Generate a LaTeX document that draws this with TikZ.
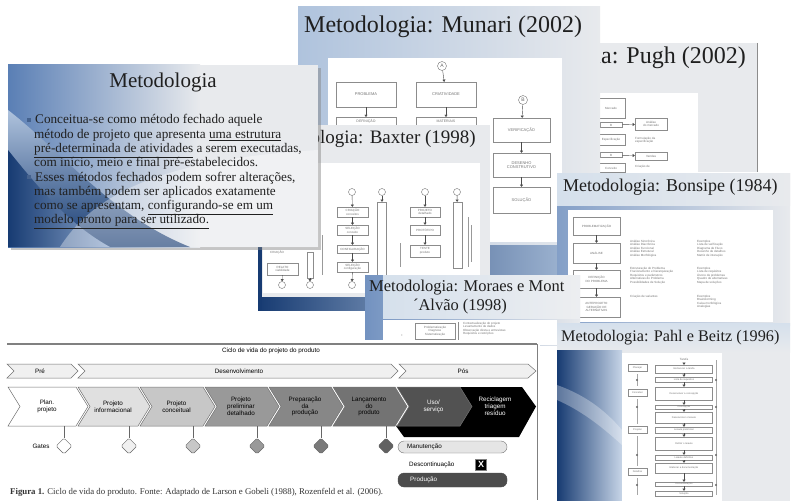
\documentclass[tikz,border=0pt]{standalone}
\usepackage{fontspec}
\setmainfont{Liberation Serif}
\setsansfont{Liberation Sans}
\usetikzlibrary{arrows.meta,shadows,shapes.geometric}
\definecolor{navy}{HTML}{173B72}
\definecolor{midblue}{HTML}{5A7FB5}
\definecolor{lightblue}{HTML}{AFC3DD}
\definecolor{paleblue}{HTML}{D5E0EC}
\definecolor{sgray}{HTML}{E8EAED}
\definecolor{txt}{HTML}{202020}
\tikzset{
  tinyfont/.style={font=\sffamily\fontsize{3}{3.5}\selectfont, text=black!55},
  dbox/.style={draw=black!45, line width=0.35pt, fill=white, tinyfont, align=center, inner sep=0.5pt},
  darr/.style={-{Triangle[length=2.2pt,width=3pt]}, black!70, line width=0.4pt},
  mcirc/.style={draw=black!55, circle, line width=0.4pt, fill=white, inner sep=0pt, minimum size=9pt, font=\sffamily\fontsize{5}{5}\selectfont, text=black!60},
  ttl/.style={inner sep=0pt, text=black!88},
  bodyline/.style={font=\fontsize{13.2}{14}\selectfont, text=txt, anchor=base west, inner sep=0pt},
  chev/.style={draw=black!55, line width=0.5pt},
  gtxt/.style={font=\sffamily\fontsize{6.3}{6.8}\selectfont, align=center, inner sep=0pt},
  gate/.style={diamond, draw=black!60, line width=0.5pt, rounded corners=1.5pt, minimum size=16pt, inner sep=0pt},
  tinytxt/.style={tinyfont, anchor=west, inner sep=0pt, align=left},
}
\begin{document}
\begin{tikzpicture}[x=1pt,y=-1pt]
\useasboundingbox (0,0) rectangle (794,500);
\fill[white] (0,0) rectangle (794,500);

%% ---------------- Pugh slide ----------------
\fill[sgray] (470,43) rectangle (757,172);
\draw[black!45, line width=1pt] (757,43) -- (757,172);
\fill[white] (560,93) rectangle (698,172);
\node[ttl, font=\fontsize{24}{24}\selectfont, anchor=east] (pught) at (746,58) {Metodologia: Pugh (2002)};
\node[dbox, minimum width=28pt, minimum height=20pt] (pu1) at (611,108) {Mercado};
\node[dbox, minimum width=22pt, minimum height=5pt] (pb1) at (611,125) {B};
\node[dbox, minimum width=32pt, minimum height=12pt] (pr1) at (651,124) {Análise\\do mercado};
\draw[darr] (pb1) -- (pr1);
\node[dbox, minimum width=28pt, minimum height=11pt] (pu2) at (611,140) {Especificação};
\node[tinytxt] (pt1) at (635,140) {Formulação da\\especificação};
\node[dbox, minimum width=22pt, minimum height=5pt] (pb2) at (611,155) {B};
\node[dbox, minimum width=32pt, minimum height=8pt] (pr2) at (651,156) {Vendas};
\draw[darr] (pb2) -- (pr2);
\node[dbox, minimum width=28pt, minimum height=9pt] (pu3) at (611,168) {Conceito};
\node[tinytxt] (pt2) at (635,167) {Criação de};

%% ---------------- Munari slide ----------------
\shade[left color=lightblue, right color=sgray] (298,7) rectangle (600,245);
\fill[white] (328,58) rectangle (562,242);
\shade[left color=navy, right color=lightblue] (298,245) rectangle (600,275);
\node[ttl, font=\fontsize{24}{24}\selectfont, anchor=west] (munt) at (304,27) {Metodologia: Munari (2002)};
\node[mcirc] (ma) at (442,66) {A};
\node[dbox, font=\sffamily\fontsize{4}{4.5}\selectfont, minimum width=60pt, minimum height=25pt] (mprob) at (366,94.5) {PROBLEMA};
\node[dbox, font=\sffamily\fontsize{4}{4.5}\selectfont, minimum width=60pt, minimum height=25pt] (mcri) at (446,94.5) {CRIATIVIDADE};
\node[dbox, minimum width=60pt, minimum height=23pt, anchor=north] (mdef) at (366,117) {};
\node[dbox, minimum width=60pt, minimum height=23pt, anchor=north] (mmat) at (446,117) {};
\node[tinyfont, font=\sffamily\fontsize{3.5}{3.5}\selectfont, inner sep=0pt] (mdeft) at (366,121.5) {DEFINIÇÃO};
\node[tinyfont, font=\sffamily\fontsize{3.5}{3.5}\selectfont, inner sep=0pt] (mmatt) at (446,121.5) {MATERIAIS};
\draw[darr] (ma) -- (mcri);
\draw[darr] (mprob) -- (mdef);
\draw[darr] (mcri) -- (mmat);
\node[mcirc] (mb) at (523,100) {B};
\node[dbox, font=\sffamily\fontsize{4}{4.5}\selectfont, minimum width=57pt, minimum height=24pt] (mver) at (521.5,130) {VERIFICAÇÃO};
\node[dbox, font=\sffamily\fontsize{4}{4.5}\selectfont, minimum width=57pt, minimum height=24pt] (mdes) at (521.5,165) {DESENHO\\CONSTRUTIVO};
\node[dbox, font=\sffamily\fontsize{4}{4.5}\selectfont, minimum width=57pt, minimum height=26pt] (msol) at (521.5,200) {SOLUÇÃO};
\draw[darr] (mb) -- (mver);
\draw[darr] (mver) -- (mdes);
\draw[darr] (mdes) -- (msol);

%% ---------------- Baxter slide ----------------
\fill[sgray] (258,125) rectangle (490,310);
\fill[white] (263,163) rectangle (480,293);
\shade[left color=navy, right color=lightblue] (258,297) rectangle (490,310);
\fill[navy] (258,240) rectangle (262,310);
\node[ttl, font=\fontsize{19}{19}\selectfont, anchor=east] (baxt) at (476,139) {Metodologia: Baxter (1998)};
\foreach \cx/\nm in {352/bc1, 382/bc2, 425/bc3, 457/bc4}{
  \node[mcirc, minimum size=7pt] (\nm) at (\cx,192) {};
}
\node[dbox, minimum width=31pt, minimum height=10pt] (bm1) at (352.5,212) {CRIAÇÃO\\conceitos};
\node[dbox, minimum width=31pt, minimum height=10pt] (bm2) at (352.5,230) {SELEÇÃO\\conceito};
\node[dbox, minimum width=31pt, minimum height=8pt] (bm3) at (352.5,249) {CONFIGURAÇÃO};
\node[dbox, minimum width=31pt, minimum height=10pt] (bm4) at (352.5,267) {SELEÇÃO\\configuração};
\draw[darr] (bc1) -- (bm1);
\draw[darr] (bm1) -- (bm2);
\draw[darr] (bm2) -- (bm3);
\draw[darr] (bm3) -- (bm4);
\node[mcirc, minimum size=7pt] (bd3) at (352,285) {};
\draw[darr] (bm4) -- (bd3);
\node[dbox, minimum width=30pt, minimum height=10pt] (bn1) at (425,212) {PROJETO\\detalhado};
\node[dbox, minimum width=30pt, minimum height=10pt] (bn2) at (425,230) {PROTÓTIPO};
\node[dbox, minimum width=30pt, minimum height=12pt] (bn3) at (425,251) {TESTE\\produto};
\draw[darr] (bc3) -- (bn1);
\draw[darr] (bn1) -- (bn2);
\draw[darr] (bn2) -- (bn3);
\node[dbox, minimum width=9pt, minimum height=76pt] (bt1) at (382,240) {};
\node[dbox, minimum width=9pt, minimum height=66pt] (bt2) at (457.5,235) {};
\draw[darr] (bc2) -- (bt1);
\draw[darr] (bc4) -- (bt2);
\draw[black!40, line width=1pt] (400,243) -- (400,267) (468,217) -- (468,267) (471,225) -- (471,262);
\node[dbox, minimum width=31pt, minimum height=12pt] (bl1) at (282.5,269) {RELATO\\viabilidade};
\node[tinytxt] (bl0) at (270,252) {CRIAÇÃO};
\node[dbox, minimum width=6pt, minimum height=26pt] (bl2) at (310,265) {};
\draw[black!40, line width=1pt] (322,235) -- (322,275);
\node[mcirc, minimum size=7pt] (bd1) at (282,285) {};
\node[mcirc, minimum size=7pt] (bd2) at (310,285) {};
\draw[darr] (bl1) -- (bd1);
\draw[darr] (bl2) -- (bd2);

%% ---------------- Bonsipe slide ----------------
\shade[left color=midblue!75, right color=sgray] (557,173) rectangle (790,325);
\shade[left color=paleblue, right color=sgray] (557,173) rectangle (790,205);
\fill[white] (568,210) rectangle (773,322);
\node[ttl, font=\fontsize{18}{18}\selectfont, anchor=west] (bont) at (563,187) {Metodologia: Bonsipe (1984)};
\node[dbox, minimum width=47pt, minimum height=18pt] (bo1) at (596.5,226) {PROBLEMATIZAÇÃO};
\node[dbox, minimum width=47pt, minimum height=20pt] (bo2) at (596.5,253) {ANÁLISE};
\node[dbox, minimum width=47pt, minimum height=18pt] (bo3) at (596.5,279) {DEFINIÇÃO\\DO PROBLEMA};
\node[dbox, minimum width=47pt, minimum height=20pt] (bo4) at (596.5,307) {ANTEPROJETO\\GERAÇÃO DE\\ALTERNATIVAS};
\draw[darr] (bo1) -- (bo2);
\draw[darr] (bo2) -- (bo3);
\draw[darr] (bo3) -- (bo4);
\node[tinytxt, anchor=north west] (bx1) at (630,240) {Análise Sincrônica\\Análise Diacrônica\\Análise Funcional\\Análise Estrutural\\Análise Morfológica};
\node[tinytxt, anchor=north west] (bx2) at (630,267) {Estruturação do Problema\\Fracionamento e hierarquização\\Requisitos e parâmetros\\Alternativas do Problema\\Possibilidades de Solução};
\node[tinytxt, anchor=north west] (bx3) at (630,295) {Criação de variantes};
\node[tinytxt, anchor=north west] (bx4) at (697,240) {Exemplos\\Lista de verificação\\Diagrama de Fluxo\\Desenho de detalhes\\Matriz de interação};
\node[tinytxt, anchor=north west] (bx5) at (697,267) {Exemplos\\Lista de requisitos\\Árvore de problemas\\Quadro de alternativas\\Mapa de soluções};
\node[tinytxt, anchor=north west] (bx6) at (697,295) {Exemplos\\Brainstorming\\Caixa morfológica\\Analogias};

%% ---------------- Moraes slide ----------------
\shade[left color=midblue!85, right color=sgray] (365,275) rectangle (580,345);
\shade[left color=paleblue, right color=sgray!80] (383,275) rectangle (580,318);
\fill[white] (383,320) rectangle (557,345);
\node[ttl, font=\fontsize{16.5}{16.5}\selectfont, anchor=west] (mort1) at (369,288) {Metodologia: Moraes e Mont};
\node[ttl, font=\fontsize{16.5}{16.5}\selectfont] (mort2) at (460,307) {´Alvão (1998)};
\node[tinyfont] (mo1) at (402,336) {+};
\node[dbox, minimum width=40pt, minimum height=16pt] (mo2) at (435,331) {Problematização\\Diagnose\\Sistematização};
\draw[black!45, line width=0.4pt] (458,322) -- (458,342);
\node[tinytxt, anchor=north west] (mo3) at (463,322) {Contextualização do projeto\\Levantamento de dados\\Observação direta e entrevistas\\Requisitos e restrições};

%% ---------------- Metodologia slide ----------------
\fill[sgray, drop shadow={shadow xshift=3pt, shadow yshift=-3pt, opacity=0.45}] (8,65) rectangle (318,247);
\shade[left color=midblue, right color=sgray] (8,65) rectangle (200,247);
\shade[top color=lightblue, bottom color=navy] (8,110) .. controls (60,150) and (110,215) .. (190,247) -- (8,247) -- cycle;
\shade[left color=navy, right color=midblue!70] (8,150) .. controls (40,190) and (70,225) .. (110,247) -- (8,247) -- cycle;
\fill[white, opacity=0.35] (60,247) .. controls (90,200) and (150,160) .. (318,150) -- (318,247) -- cycle;
\node[ttl, font=\fontsize{21}{21}\selectfont] (mett) at (163,82) {Metodologia};
\node[fill=navy!80, minimum size=3.6pt, inner sep=0pt] (bul1) at (29,120) {};
\node[fill=navy!80, minimum size=3.6pt, inner sep=0pt] (bul2) at (29,177) {};
\node[bodyline] (l1) at (35,124) {Conceitua-se como método fechado aquele};
\node[bodyline] (l2) at (34,138.3) {método de projeto que apresenta \underline{uma estrutura}};
\node[bodyline] (l3) at (34,152.6) {\underline{pré-determinada de atividades} a serem executadas,};
\node[bodyline] (l4) at (34,166.9) {com início, meio e final pré-estabelecidos.};
\node[bodyline] (l5) at (35,181) {Esses métodos fechados podem sofrer alterações,};
\node[bodyline] (l6) at (34,195.3) {mas também podem ser aplicados exatamente};
\node[bodyline] (l7) at (34,209.6) {como se apresentam, \underline{configurando-se em um}};
\node[bodyline] (l8) at (34,223.9) {\underline{modelo pronto para ser utilizado.}};

%% ---------------- Pahl e Beitz slide ----------------
\fill[sgray] (557,323) rectangle (790,505);
\shade[top color=paleblue, bottom color=sgray] (557,323) rectangle (790,352);
\shade[left color=navy, right color=lightblue!70] (557,350) rectangle (622,505);
\fill[white, opacity=0.3] (557,385) .. controls (585,395) and (605,410) .. (622,430) -- (622,445) .. controls (600,425) and (580,410) .. (557,400) -- cycle;
\fill[white] (622,353) rectangle (722,505);
\node[ttl, font=\fontsize{16.2}{16.2}\selectfont, anchor=west] (pahlt) at (561,338) {Metodologia: Pahl e Beitz (1996)};
\node[tinyfont] (pp0) at (684,359) {Tarefa};
\foreach \cy/\hh/\lab/\nm in {369/8/{Esclarecer a tarefa}/pp1, 379.5/5/{Lista de requisitos}/pp2, 393.5/13/{Desenvolver a concepção}/pp3, 407/4/{Concepção}/pp4, 417.5/11/{Desenvolver o leiaute}/pp5, 430/6/{Leiaute preliminar}/pp6, 443.5/13/{Definir o leiaute}/pp7, 457.5/5/{Leiaute definitivo}/pp8, 468/10/{Elaborar a documentação}/pp9, 484/4/{Documentação}/pp10, 493.5/5/{Solução}/pp11}{
  \node[dbox, minimum width=57pt, minimum height=\hh pt, font=\sffamily\fontsize{2.5}{3}\selectfont] (\nm) at (684,\cy) {\lab};
}
\draw[darr] (pp0) -- (pp1);
\foreach \u/\v in {pp1/pp2, pp2/pp3, pp3/pp4, pp4/pp5, pp5/pp6, pp6/pp7, pp7/pp8, pp8/pp9, pp9/pp10, pp10/pp11}{
  \draw[darr] (\u) -- (\v);
}
\foreach \cy/\lab/\nm in {368/{Planejar}/pl1, 393/{Conceber}/pl2, 430/{Projetar}/pl3, 472/{Detalhar}/pl4}{
  \node[dbox, minimum width=19pt, minimum height=7pt, font=\sffamily\fontsize{2.5}{3}\selectfont] (\nm) at (637.5,\cy) {\lab};
}
\draw[black!35, line width=0.3pt] (637,374) -- (637,386) (637,399) -- (637,424) (637,436) -- (637,466) (637,478) -- (637,495);
\draw[black!35, line width=0.3pt] (716,360) -- (716,495);
\foreach \cy in {380,407,455,485}{
  \fill[black!60] (637,\cy) circle (1.2);
  \fill[black!60] (716,\cy) circle (1.2);
}

%% ---------------- Gantt figure ----------------
\fill[white] (0,340) rectangle (540,500);
\draw[black!50, line width=1.5pt] (7,344) -- (537,344);
\draw[black!50, line width=1pt] (537,344) -- (537,500);
\node[gtxt] (gtitle) at (271,351) {Ciclo de vida do projeto do produto};
% phase row
\filldraw[chev, fill=black!6] (7,364) -- (71,364) -- (78,371) -- (71,378) -- (7,378) -- (14,371) -- cycle;
\filldraw[chev, fill=black!6] (78,364) -- (391,364) -- (398,371) -- (391,378) -- (78,378) -- (85,371) -- cycle;
\filldraw[chev, fill=black!6] (399,364) -- (528,364) -- (536,371) -- (528,378) -- (399,378) -- (406,371) -- cycle;
\node[gtxt] (ph1) at (40,371) {Pré};
\node[gtxt] (ph2) at (239,371) {Desenvolvimento};
\node[gtxt] (ph3) at (463,371) {Pós};
% black reciclagem shape
\fill[black] (455,387) -- (522,387) -- (536,406.5) -- (519,437) -- (404,437) -- (396,426) -- cycle;
\foreach \a/\b/\f/\t/\lab/\nm in {7/77/white/black/{Plan.\\projeto}/c1, 77/139/black!12/black/{Projeto\\informacional}/c2, 139/204/black!22/black/{Projeto\\conceitual}/c3, 204/268/black!40/black/{Projeto\\preliminar\\detalhado}/c4, 268/332/black!47/black/{Preparação\\da\\produção}/c5, 332/396/black!55/black/{Lançamento\\do\\produto}/c6, 396/461/black!68/white/{Uso/\\serviço}/c7}{
  \filldraw[chev, fill=\f] ({\a+1},387) -- ({\b-1},387) -- ({\b+11},406.5) -- ({\b-1},426) -- ({\a+1},426) -- ({\a+13},406.5) -- cycle;
  \node[gtxt, text=\t] (\nm) at ({(\a+\b)/2+5},406.5) {\lab};
}
\node[gtxt, text=white] (c8) at (495,406.5) {Reciclagem\\triagem\\resíduo};
% gates
\node[gtxt] (gates) at (41,446) {Gates};
\foreach \gx/\gf/\nm in {64/white/g1, 129/black!6/g2, 193/black!22/g3, 257/black!40/g4, 321/black!52/g5, 386/black!62/g6}{
  \coordinate (t\nm) at (\gx,426);
  \node[gate, fill=\gf] (\nm) at (\gx,446) {};
  \draw[black!60, line width=0.5pt] (t\nm) -- (\nm.north);
}
% legend
\node[draw=black!55, fill=black!10, rounded corners=6pt, minimum width=109pt, minimum height=12pt, inner sep=0pt] (manut) at (452.5,447) {};
\node[gtxt, anchor=west] (manutt) at (407,447) {Manutenção};
\node[gtxt, anchor=west] (desc) at (409,464.5) {Descontinuação};
\node[fill=black, draw=black!50, minimum size=11pt, inner sep=0pt, text=white, font=\sffamily\bfseries\fontsize{9}{9}\selectfont] (xbox) at (481,464.5) {X};
\node[draw=black!70, fill=black!70, rounded corners=6pt, minimum width=109pt, minimum height=14pt, inner sep=0pt] (prod) at (452.5,480) {};
\node[gtxt, anchor=west, text=white] (prodt) at (410,480) {Produção};
\node[anchor=west, inner sep=0pt, font=\fontsize{8.8}{8.8}\selectfont, text=black!80] (cap) at (10,492) {\textbf{Figura 1.} Ciclo de vida do produto. Fonte: Adaptado de Larson e Gobeli (1988), Rozenfeld et al. (2006).};
\end{tikzpicture}
\end{document}
